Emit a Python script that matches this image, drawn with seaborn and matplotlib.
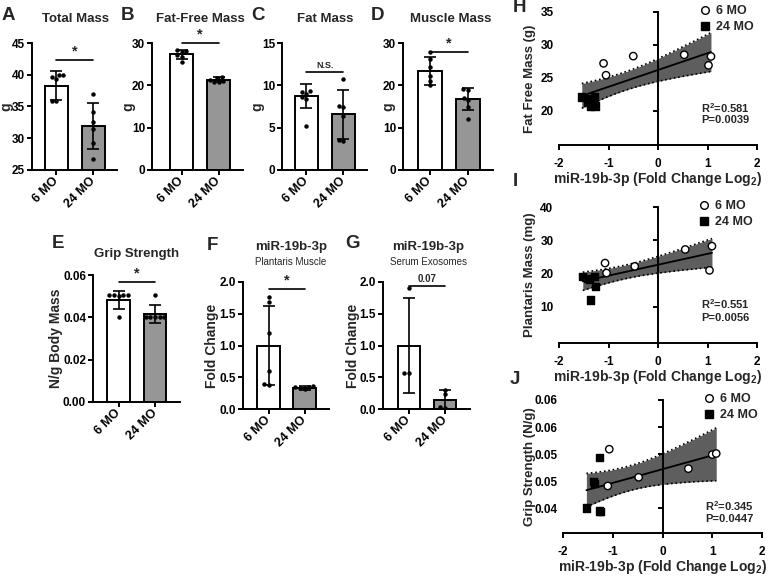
import matplotlib
matplotlib.use("Agg")
import matplotlib.pyplot as plt
from matplotlib.lines import Line2D
from matplotlib.ticker import FormatStrFormatter
import numpy as np
import pandas as pd
import seaborn as sns

# ---------------- data ----------------
groups = ["6 MO", "24 MO"]
bar_colors = ["white", "#969696"]

# A  Total Mass (g)
total_mass_6mo = [40.0, 39.3, 39.9, 39.6, 35.8, 35.9]
total_mass_24mo = [37.0, 34.2, 32.6, 31.5, 29.3, 26.8]
total_mass_mean = [38.3, 31.9]
total_mass_sd = [2.3, 3.6]
total_mass_sig = 42.3

# B  Fat-Free Mass (g)
fat_free_6mo = [28.4, 28.1, 27.9, 27.2, 26.8, 25.6]
fat_free_24mo = [22.0, 21.8, 21.3, 21.0, 20.9, 20.8]
fat_free_mean = [27.3, 21.3]
fat_free_sd = [1.1, 0.6]
fat_free_sig = 30.0

# C  Fat Mass (g)
fat_6mo = [9.3, 9.2, 9.0, 8.6, 8.4, 5.2]
fat_24mo = [10.8, 7.6, 7.5, 6.4, 3.5, 3.4]
fat_mean = [8.7, 6.6]
fat_sd = [1.4, 2.9]
fat_sig = 11.6

# D  Muscle Mass (g)
muscle_6mo = [27.9, 26.3, 24.3, 22.2, 21.1, 20.0]
muscle_24mo = [19.2, 19.0, 17.0, 16.5, 15.0, 12.0]
muscle_mean = [23.4, 16.8]
muscle_sd = [3.3, 2.6]
muscle_sig = 27.9

# E  Grip Strength (N/g body mass)
grip_6mo = [0.0505, 0.0505, 0.0504, 0.0506, 0.0503, 0.0400]
grip_24mo = [0.0505, 0.0402, 0.0401, 0.0400, 0.0402, 0.0400]
grip_mean = [0.0481, 0.0416]
grip_sd = [0.0043, 0.0042]
grip_sig = 0.0567

# F  miR-19b-3p, plantaris muscle (fold change)
mir_muscle_6mo = [1.76, 1.68, 1.20, 0.60, 0.39, 0.38]
mir_muscle_24mo = [0.36, 0.35, 0.34, 0.33, 0.32]
mir_muscle_mean = [1.0, 0.33]
mir_muscle_sd = [0.62, 0.03]
mir_muscle_sig = 1.89

# G  miR-19b-3p, serum exosomes (fold change)
mir_serum_6mo = [1.90, 0.57, 0.56]
mir_serum_24mo = [0.30, 0.23, 0.03, 0.02]
mir_serum_mean = [1.0, 0.14]
mir_serum_sd = [0.75, 0.16]
mir_serum_sig = 1.94

# H  fat free mass vs miR-19b-3p (log2 fold change)
ffm_x_6mo = [-1.10, -1.05, -0.50, 0.53, 1.07, 1.02]
ffm_y_6mo = [27.2, 25.4, 28.3, 28.5, 28.25, 26.9]
ffm_x_24mo = [-1.54, -1.38, -1.28, -1.36, -1.27, -1.42]
ffm_y_24mo = [22.1, 21.8, 22.1, 20.6, 20.7, 21.3]

# I  plantaris mass vs miR-19b-3p
pla_x_6mo = [-1.07, -1.04, -0.47, 0.55, 1.09, 1.04]
pla_y_6mo = [23.1, 20.1, 22.1, 27.2, 28.2, 20.9]
pla_x_24mo = [-1.52, -1.39, -1.28, -1.26, -1.36, -1.42]
pla_y_24mo = [19.1, 18.1, 19.1, 16.1, 12.0, 18.4]

# J  grip strength vs miR-19b-3p
grp_x_6mo = [-1.07, -1.10, -0.48, 0.52, 1.00, 1.08]
grp_y_6mo = [0.0509, 0.0441, 0.0457, 0.0473, 0.0499, 0.0501]
grp_x_24mo = [-1.27, -1.39, -1.37, -1.53, -1.27, -1.25]
grp_y_24mo = [0.0494, 0.0449, 0.0446, 0.0400, 0.0395, 0.0394]

reg_xticks = [-2, -1, 0, 1, 2]
ffm_yticks = [20, 25, 30, 35]
pla_yticks = [10, 20, 30, 40]
grp_yticks = [0.040, 0.045, 0.050, 0.055, 0.060]
grp_yticklabels = ["0.04", "0.05", "0.05", "0.06", "0.06"]

# ---------------- style ----------------
sns.set_style("ticks")
plt.rcParams["font.family"] = ["Liberation Sans", "DejaVu Sans"]
plt.rcParams["font.weight"] = "bold"
plt.rcParams["axes.labelweight"] = "bold"
plt.rcParams["axes.unicode_minus"] = False
plt.rcParams["mathtext.fontset"] = "custom"
plt.rcParams["mathtext.rm"] = "Liberation Sans:bold"
plt.rcParams["mathtext.bf"] = "Liberation Sans:bold"
plt.rcParams["axes.linewidth"] = 1.4
plt.rcParams["axes.edgecolor"] = "black"
plt.rcParams["xtick.color"] = "black"
plt.rcParams["ytick.color"] = "black"
plt.rcParams["xtick.major.width"] = 1.4
plt.rcParams["ytick.major.width"] = 1.4
plt.rcParams["xtick.major.size"] = 3.5
plt.rcParams["ytick.major.size"] = 3.5
plt.rcParams["xtick.labelsize"] = 8.5
plt.rcParams["ytick.labelsize"] = 8.5
plt.rcParams["xtick.major.pad"] = 1.5
plt.rcParams["ytick.major.pad"] = 1.5

W, H = 781, 580
fig = plt.figure(figsize=(W / 100, H / 100), dpi=100)


def add_ax(left, top, width, height):
    return fig.add_axes([left / W, 1 - (top + height) / H, width / W, height / H])


def ftext(x, y, s, **kw):
    fig.text(x / W, 1 - y / H, s, **kw)


def bar_panel(ax, pts6, pts24, means, sds, xlim, ylim, yticks, sig_y, sig_text,
              ylabel, label_x, fmt=None, sig_size=10.5):
    sns.barplot(x=groups, y=means, hue=groups, palette=bar_colors, edgecolor="black",
                linewidth=1.4, width=0.62, errorbar=None, legend=False, ax=ax, zorder=2)
    ax.errorbar([0, 1], means, yerr=sds, fmt="none", ecolor="black",
                elinewidth=1.2, capsize=4.5, capthick=1.2, zorder=3)
    pts = pd.DataFrame({"group": [groups[0]] * len(pts6) + [groups[1]] * len(pts24),
                        "value": list(pts6) + list(pts24)})
    sns.swarmplot(data=pts, x="group", y="value", order=groups, color="black",
                  size=3.2, ax=ax, zorder=4)
    ax.set_xlim(xlim)
    ax.set_ylim(ylim)
    ax.set_yticks(yticks)
    if fmt:
        ax.yaxis.set_major_formatter(FormatStrFormatter(fmt))
    ax.set_xticks([0, 1])
    ax.set_xticklabels(groups, rotation=45, ha="right", va="center",
                       rotation_mode="anchor", fontsize=9)
    ax.tick_params(axis="x", pad=3)
    sns.despine(ax=ax)
    ax.set_xlabel("")
    ax.set_ylabel(ylabel, fontsize=10, va="center")
    ax.yaxis.set_label_coords(label_x, 0.5)
    ax.plot([0, 1], [sig_y, sig_y], color="black", lw=1.2, clip_on=False)
    ax.annotate(sig_text, (0.5, sig_y), xytext=(0, 1), textcoords="offset points",
                ha="center", va="bottom", fontsize=sig_size, annotation_clip=False)


def reg_panel(ax, x6, y6, x24, y24, ylim, yticks, yticklabels, ylabel, label_x, legend_x):
    df = pd.DataFrame({"x": x6 + x24, "y": y6 + y24,
                       "group": [groups[0]] * len(x6) + [groups[1]] * len(x24)})
    xs = df["x"].to_numpy()
    ys = df["y"].to_numpy()
    slope, icpt = np.polyfit(xs, ys, 1)
    grid = np.linspace(xs.min(), xs.max(), 100)
    fit = icpt + slope * grid
    n = len(xs)
    resid = ys - (icpt + slope * xs)
    s_err = np.sqrt(np.sum(resid ** 2) / (n - 2))
    se = s_err * np.sqrt(1 / n + (grid - xs.mean()) ** 2 / np.sum((xs - xs.mean()) ** 2))
    band = 2.228 * se  # t(0.975, df=10), 95% confidence band
    ax.fill_between(grid, fit - band, fit + band, color="#5e5e5e", lw=0, zorder=1)
    for edge in (fit - band, fit + band):
        ax.plot(grid, edge, color="black", lw=1.2, ls=":", zorder=2)
    sns.lineplot(x=grid, y=fit, color="black", lw=1.3, ax=ax, zorder=3)
    sns.scatterplot(data=df, x="x", y="y", hue="group", style="group",
                    palette={"6 MO": "white", "24 MO": "black"},
                    markers={"6 MO": "o", "24 MO": "s"}, edgecolor="black",
                    linewidth=1.0, s=28, legend=False, ax=ax, zorder=4)

    ax.set_xlim(-2, 2)
    ax.set_ylim(ylim)
    sns.despine(ax=ax)
    ax.spines["left"].set_position(("data", 0))
    ax.set_xticks(reg_xticks)
    ax.set_yticks(yticks)
    ax.tick_params(axis="y", labelleft=False)
    ax.tick_params(axis="x", pad=6)
    sec = ax.secondary_yaxis("left")
    sec.set_yticks(yticks, labels=yticklabels)
    sec.tick_params(length=0, pad=4)
    sec.spines["left"].set_visible(False)

    ax.set_xlabel("miR-19b-3p (Fold Change Log$_\\mathrm{2}$)", fontsize=10, labelpad=0)
    ax.set_ylabel(ylabel, fontsize=9.5, va="center")
    ax.yaxis.set_label_coords(label_x, 0.5)

    handles = [Line2D([], [], marker="o", ls="", mfc="white", mec="black", mew=1.0, ms=5.5),
               Line2D([], [], marker="s", ls="", mfc="black", mec="black", ms=5.5)]
    ax.legend(handles, groups, loc="upper left", bbox_to_anchor=(legend_x, 1.05),
              frameon=False, fontsize=9, handlelength=1.0, handletextpad=0.4,
              borderpad=0, borderaxespad=0, labelspacing=0.3)


# ---------------- top row bar panels ----------------
ax = add_ax(32, 43, 85, 127)
bar_panel(ax, total_mass_6mo, total_mass_24mo, total_mass_mean, total_mass_sd,
          (-0.66, 1.64), (25, 45), [25, 30, 35, 40, 45], total_mass_sig, "*", "g", -0.306)

ax = add_ax(152, 43, 91, 127)
bar_panel(ax, fat_free_6mo, fat_free_24mo, fat_free_mean, fat_free_sd,
          (-0.8, 1.66), (0, 30), [0, 10, 20, 30], fat_free_sig, "*", "g", -0.264)

ax = add_ax(282, 43, 85, 127)
bar_panel(ax, fat_6mo, fat_24mo, fat_mean, fat_sd,
          (-0.66, 1.64), (0, 15), [0, 5, 10, 15], fat_sig, "N.S.", "g", -0.294, sig_size=6.5)

ax = add_ax(403, 43, 90, 127)
bar_panel(ax, muscle_6mo, muscle_24mo, muscle_mean, muscle_sd,
          (-0.71, 1.66), (0, 30), [0, 10, 20, 30], muscle_sig, "*", "g", -0.167)

# ---------------- second row bar panels ----------------
ax = add_ax(93, 275, 87, 127)
bar_panel(ax, grip_6mo, grip_24mo, grip_mean, grip_sd,
          (-0.70, 1.68), (0, 0.06), [0, 0.02, 0.04, 0.06], grip_sig, "*",
          "N/g Body Mass", -0.425, fmt="%.2f")

ax = add_ax(243, 282, 86, 127)
bar_panel(ax, mir_muscle_6mo, mir_muscle_24mo, mir_muscle_mean, mir_muscle_sd,
          (-0.71, 1.68), (0, 2), [0, 0.5, 1.0, 1.5, 2.0], mir_muscle_sig, "*",
          "Fold Change", -0.36, fmt="%.1f")

ax = add_ax(383, 282, 87, 127)
bar_panel(ax, mir_serum_6mo, mir_serum_24mo, mir_serum_mean, mir_serum_sd,
          (-0.72, 1.69), (0, 2), [0, 0.5, 1.0, 1.5, 2.0], mir_serum_sig, "0.07",
          "Fold Change", -0.345, fmt="%.1f", sig_size=7)

# ---------------- regression panels ----------------
ax = add_ax(559, 12, 198, 133)
reg_panel(ax, ffm_x_6mo, ffm_y_6mo, ffm_x_24mo, ffm_y_24mo, (14.8, 35), ffm_yticks,
          [str(t) for t in ffm_yticks], "Fat Free Mass (g)", -0.146, 0.705)

ax = add_ax(559, 207, 198, 136)
reg_panel(ax, pla_x_6mo, pla_y_6mo, pla_x_24mo, pla_y_24mo, (-1, 40), pla_yticks,
          [str(t) for t in pla_yticks], "Plantaris Mass (mg)", -0.146, 0.70)

ax = add_ax(563, 400, 199, 133)
reg_panel(ax, grp_x_6mo, grp_y_6mo, grp_x_24mo, grp_y_24mo, (0.0354, 0.060), grp_yticks,
          grp_yticklabels, "Grip Strength (N/g)", -0.166, 0.70)

# stats text
ftext(701, 108, "R$^\\mathrm{2}$=0.581", fontsize=8, va="center")
ftext(701, 120, "P=0.0039", fontsize=8, va="center")
ftext(701, 304, "R$^\\mathrm{2}$=0.551", fontsize=8, va="center")
ftext(701, 318, "P=0.0056", fontsize=8, va="center")
ftext(705, 506, "R$^\\mathrm{2}$=0.345", fontsize=8, va="center")
ftext(705, 519, "P=0.0447", fontsize=8, va="center")

# ---------------- titles & panel letters ----------------
ftext(75, 19, "Total Mass", fontsize=9.5, ha="center", va="center")
ftext(200, 19, "Fat-Free Mass", fontsize=9.5, ha="center", va="center")
ftext(325, 19, "Fat Mass", fontsize=9.5, ha="center", va="center")
ftext(451, 19, "Muscle Mass", fontsize=9.5, ha="center", va="center")
ftext(137, 254, "Grip Strength", fontsize=9.5, ha="center", va="center")
ftext(291, 247, "miR-19b-3p", fontsize=9.5, ha="center", va="center")
ftext(291, 262, "Plantaris Muscle", fontsize=7, fontweight="normal", ha="center", va="center")
ftext(428, 247, "miR-19b-3p", fontsize=9.5, ha="center", va="center")
ftext(428, 262, "Serum Exosomes", fontsize=7, fontweight="normal", ha="center", va="center")

for letter, x, y in [("A", 8, 15), ("B", 127, 15), ("C", 258, 15), ("D", 377, 15),
                     ("E", 58, 244), ("F", 212, 245), ("G", 352, 243),
                     ("H", 519, 7), ("I", 515, 181), ("J", 515, 379)]:
    ftext(x, y, letter, fontsize=13.5, ha="center", va="center")

fig.savefig("out.png", dpi=100)
